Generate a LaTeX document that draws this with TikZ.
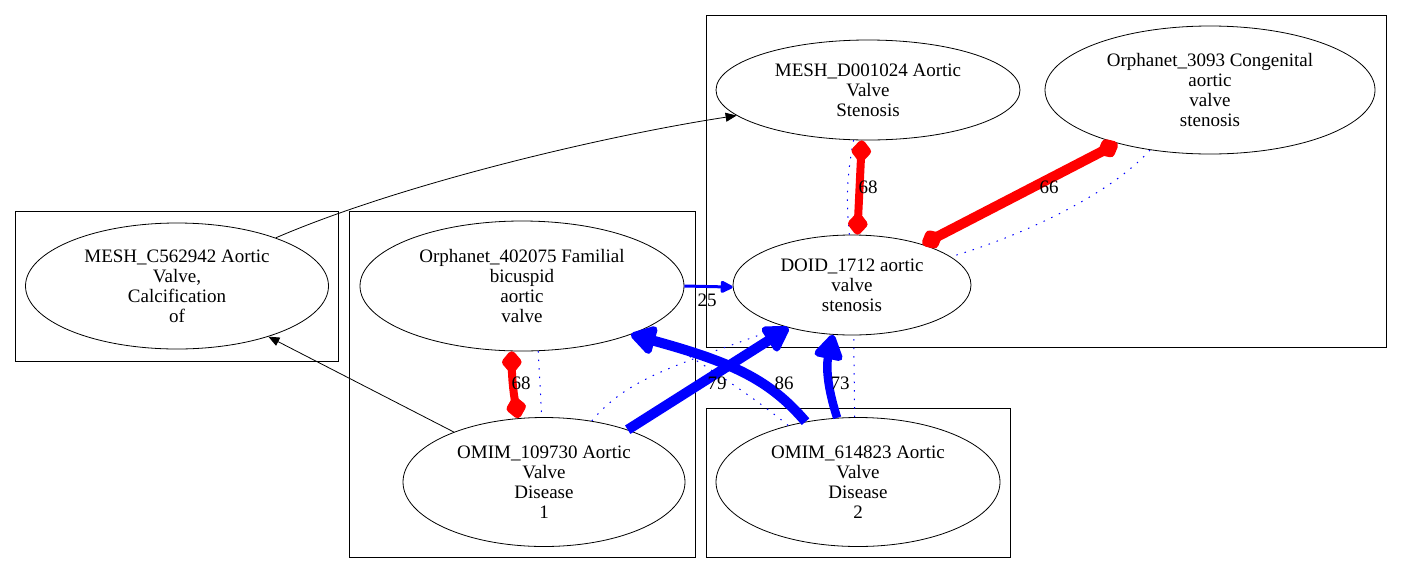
\documentclass[tikz,border=0pt]{standalone}
\usepackage{fontspec}
\setmainfont{Liberation Serif}
\usetikzlibrary{shapes.geometric}
\usetikzlibrary{arrows.meta}
\tikzset{term/.style={draw, ellipse, line width=0.8pt, inner sep=0pt, align=center, font=\fontsize{19}{20}\selectfont}}
\tikzset{grpbox/.style={draw, line width=0.8pt, inner sep=0pt}}
\tikzset{wt/.style={inner sep=1pt, font=\fontsize{19}{20}\selectfont}}
\tikzset{isa/.style={draw=black, line width=0.8pt, -{Triangle[length=11pt,width=9pt]}}}
\tikzset{alt/.style={draw=blue, line width=1pt, dash pattern=on 1.5pt off 7pt}}
\tikzset{simred/.style={draw=red, line width=#1, {Diamond[round,length=26pt,width=22pt]}-{Diamond[round,length=26pt,width=22pt]}}}
\tikzset{hitblue/.style={draw=blue, line width=#1, -{Triangle[round,length=28pt,width=32pt]}}}

\begin{document}
\begin{tikzpicture}[x=1pt, y=-1pt]
\useasboundingbox (0,0) rectangle (1403,574);

% clusters
\node[grpbox, minimum width=323pt, minimum height=150pt] (grpCalc) at (176.5,286) {};
\node[grpbox, minimum width=346pt, minimum height=346pt] (grpFam) at (522,384) {};
\node[grpbox, minimum width=680pt, minimum height=332pt] (grpSten) at (1046,181) {};
\node[grpbox, minimum width=304pt, minimum height=149pt] (grpDis) at (858,482.5) {};

% terms
\node[term, minimum width=303pt, minimum height=126pt] (meshC) at (177,286) {MESH\_C562942 Aortic\\Valve,\\Calcification\\of};
\node[term, minimum width=324pt, minimum height=130pt] (orphF) at (522,286) {Orphanet\_402075 Familial\\bicuspid\\aortic\\valve};
\node[term, minimum width=282pt, minimum height=129pt] (omimA) at (544,482) {OMIM\_109730 Aortic\\Valve\\Disease\\1};
\node[term, minimum width=284pt, minimum height=129pt] (omimB) at (858,482) {OMIM\_614823 Aortic\\Valve\\Disease\\2};
\node[term, minimum width=238pt, minimum height=100pt] (doid) at (852,285) {DOID\_1712 aortic\\valve\\stenosis};
\node[term, minimum width=304pt, minimum height=100pt] (meshD) at (868,90) {MESH\_D001024 Aortic\\Valve\\Stenosis};
\node[term, minimum width=330pt, minimum height=128pt] (orphC) at (1210,90) {Orphanet\_3093 Congenital\\aortic\\valve\\stenosis};

% dotted links
\draw[alt] (orphF.284) -- (omimA.92);
\draw[alt] (meshD.254) to[bend right=8] (doid.93);
\draw[alt] (orphC.225) .. controls +(-43,48) and +(60,-17) .. (doid.16);
\draw[alt] (omimA.52) .. controls +(38,-45) and +(-105,39) .. (doid.211);
\draw[alt] (omimB.141) .. controls +(-30,-25) and +(50,25) .. (orphF.340);
\draw[alt] (omimB.93) -- (doid.272);

% thin arrows
\draw[isa] (meshC.26) .. controls +(123,-53) and +(-137,21) .. (meshD.191);
\draw[isa] (omimA.151) -- (meshC.331);

% weighted links
\draw[simred=8pt] (orphF.261) to[bend right=5] (omimA.112);
\draw[simred=8pt] (meshD.263) -- (doid.84);
\draw[simred=10pt] (orphC.210) -- (doid.30);
\draw[draw=blue, line width=3pt, -{Triangle[round,length=14pt,width=13pt]}] (orphF.east) -- (doid.181);
\draw[hitblue=10pt] (omimA.32) -- (doid.214);
\draw[hitblue=10pt] (omimB.131) .. controls +(-36,-42) and +(102,28) .. (orphF.336);
\draw[hitblue=8.5pt] (omimB.108) to[bend left=15] (doid.249);

% weights
\node[wt] (w25) at (707,300) {25};
\node[wt] (w68a) at (521,383) {68};
\node[wt] (w79) at (717,383) {79};
\node[wt] (w86) at (784,383) {86};
\node[wt] (w73) at (840,383) {73};
\node[wt] (w68b) at (868,187) {68};
\node[wt] (w66) at (1049,187) {66};

\end{tikzpicture}
\end{document}
